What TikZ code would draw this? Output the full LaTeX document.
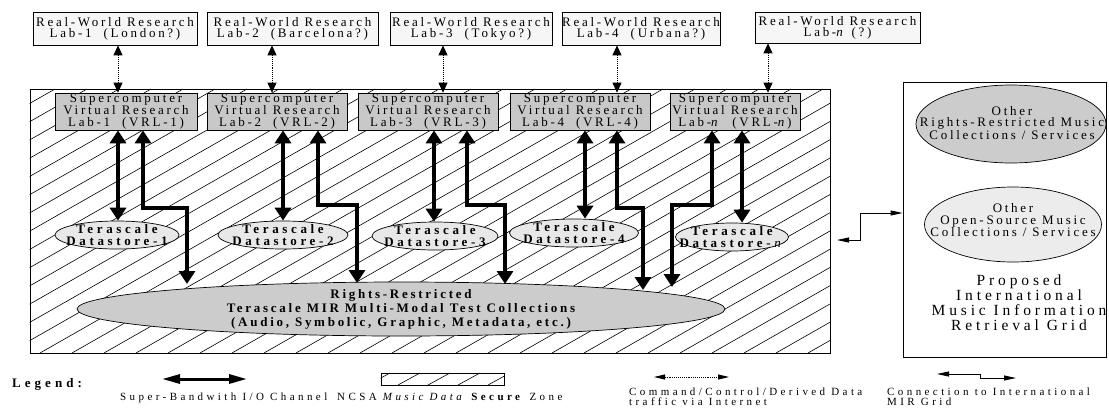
\documentclass[tikz,border=0pt]{standalone}
\usepackage{fontspec}
\setmainfont{Liberation Serif}
\newfontfamily\famA{Liberation Serif}[LetterSpace=21]
\newfontfamily\famB{Liberation Serif}[LetterSpace=25]
\newfontfamily\famC{Liberation Serif}[LetterSpace=31]
\newfontfamily\famD{Liberation Serif}[LetterSpace=28]
\usetikzlibrary{arrows.meta,shapes.geometric,calc}
\definecolor{rwfill}{RGB}{246,246,246}
\definecolor{vrlfill}{RGB}{200,200,200}
\definecolor{dsfill}{RGB}{232,232,232}
\definecolor{bigfill}{RGB}{204,204,204}
\definecolor{osfill}{RGB}{236,236,236}
\begin{document}
\begin{tikzpicture}[x=1pt,y=-1pt,
  rwbox/.style={draw, fill=rwfill, line width=0.7pt, inner sep=0pt, align=center, font=\famA\fontsize{13}{11}\selectfont},
  vrlbox/.style={draw, fill=vrlfill, line width=0.7pt, inner sep=0pt, align=center, minimum height=37pt, font=\famA\fontsize{13}{12.3}\selectfont},
  ellshape/.style={ellipse, draw, line width=0.7pt, inner sep=0pt},
  dsell/.style={ellshape, fill=dsfill, minimum height=28pt},
  dstext/.style={inner sep=0pt, align=center, font=\famD\bfseries\fontsize{13}{12}\selectfont},
  io/.style={line width=3.6pt, {Triangle[length=13pt,width=16pt]}-{Triangle[length=13pt,width=16pt]}},
  ioleg/.style={line width=3pt, {Triangle[length=18pt,width=9pt]}-{Triangle[length=18pt,width=9pt]}},
  net/.style={densely dotted, line width=0.9pt, {Triangle[length=10pt,width=9pt]}-{Triangle[length=10pt,width=9pt]}},
  netleg/.style={densely dotted, line width=0.9pt, {Triangle[length=11pt,width=5pt]}-{Triangle[length=11pt,width=5pt]}},
  gridc/.style={line width=0.9pt, {Triangle[length=12pt,width=5pt]}-{Triangle[length=12pt,width=5pt]}},
  hatchline/.style={line width=0.6pt},
  legtext/.style={inner sep=0pt, font=\famC\fontsize{11}{10}\selectfont}
]
\useasboundingbox (0,0) rectangle (1109,408);

% ---------- secure zone ----------
\node[draw, line width=0.8pt, minimum width=800pt, minimum height=264pt, inner sep=0pt] (zone) at (430,221) {};
\begin{scope}
  \clip (zone.north west) rectangle (zone.south east);
  \foreach \k in {0,...,42} \draw[hatchline] ({-440+32*\k},353) -- ++(463,-264);
\end{scope}

% ---------- real-world labs ----------
\node[rwbox, minimum width=164pt, minimum height=33pt] (rw1) at (115,28.5) {Real-World Research\\Lab-1\ \ (London?)};
\node[rwbox, minimum width=171pt, minimum height=33pt] (rw2) at (292.5,28.5) {Real-World Research\\Lab-2\ \ (Barcelona?)};
\node[rwbox, minimum width=162pt, minimum height=33pt] (rw3) at (471,28.5) {Real-World Research\\Lab-3\ \ (Tokyo?)};
\node[rwbox, minimum width=158pt, minimum height=33pt] (rw4) at (641,28.5) {Real-World Research\\Lab-4\ \ (Urbana?)};
\node[rwbox, minimum width=165pt, minimum height=31pt] (rw5) at (837.5,27.5) {Real-World Research\\Lab-\textit{n} (?)};

% ---------- virtual research labs ----------
\node[vrlbox, minimum width=142pt] (vrl1) at (126,111.5) {Supercomputer\\Virtual Research\\Lab-1\ \ (VRL-1)};
\node[vrlbox, minimum width=140pt] (vrl2) at (277,111.5) {Supercomputer\\Virtual Research\\Lab-2\ \ (VRL-2)};
\node[vrlbox, minimum width=140pt] (vrl3) at (428,111.5) {Supercomputer\\Virtual Research\\Lab-3\ \ (VRL-3)};
\node[vrlbox, minimum width=140pt] (vrl4) at (580,111.5) {Supercomputer\\Virtual Research\\Lab-4\ \ (VRL-4)};
\node[vrlbox, minimum width=130pt] (vrl5) at (735,111.5) {Supercomputer\\Virtual Research\\Lab-\textit{n}\ \ (VRL-\textit{n})};

% ---------- datastores ----------
\node[dsell, minimum width=124pt] (ds1) at (117,235) {};
\node[dsell, minimum width=130pt] (ds2) at (283,235) {};
\node[dsell, minimum width=126pt] (ds3) at (435,236) {};
\node[dsell, minimum width=129pt] (ds4) at (574,233) {};
\node[dsell, minimum width=113pt] (ds5) at (732,237) {};
\node[dstext] (ds1t) at (ds1.center) {Terascale\\Datastore-1};
\node[dstext] (ds2t) at (ds2.center) {Terascale\\Datastore-2};
\node[dstext] (ds3t) at (ds3.center) {Terascale\\Datastore-3};
\node[dstext] (ds4t) at (ds4.center) {Terascale\\Datastore-4};
\node[dstext] (ds5t) at (ds5.center) {Terascale\\Datastore-\textmd{\textit{n}}};

% ---------- test collections ----------
\node[ellshape, fill=bigfill, minimum width=648pt, minimum height=54pt] (big) at (401,309) {};
\node[inner sep=0pt, align=center, font=\famA\bfseries\fontsize{13}{14}\selectfont] (bigt) at (big.center)
  {Rights-Restricted\\Terascale MIR Multi-Modal Test Collections\\(Audio, Symbolic, Graphic, Metadata, etc.)};

% ---------- dotted internet arrows ----------
\coordinate (d1) at (118,0);
\coordinate (d2) at (272,0);
\coordinate (d3) at (443,0);
\coordinate (d4) at (617,0);
\coordinate (d5) at (768,0);
\draw[net] (rw1.south -| d1) -- (vrl1.north -| d1);
\draw[net] (rw2.south -| d2) -- (vrl2.north -| d2);
\draw[net] (rw3.south -| d3) -- (vrl3.north -| d3);
\draw[net] (rw4.south -| d4) -- (vrl4.north -| d4);
\draw[net] (rw5.south -| d5) -- (vrl5.north -| d5);

% ---------- I/O channels to datastores ----------
\coordinate (x1) at (118,0);
\coordinate (x2) at (283,0);
\coordinate (x3) at (434,0);
\coordinate (x4) at (585,0);
\coordinate (x5) at (742,0);
\draw[io] (vrl1.south -| x1) -- (ds1.north -| x1);
\draw[io] (vrl2.south -| x2) -- (ds2.north -| x2);
\draw[io] (vrl3.south -| x3) -- (ds3.north -| x3);
\draw[io] (vrl4.south -| x4) -- (ds4.north -| x4);
\draw[io] (vrl5.south -| x5) -- (ds5.north -| x5);

% ---------- I/O channels to test collections ----------
\coordinate (b1) at (143,208); \coordinate (e1) at (187,284);
\coordinate (b2) at (318,205); \coordinate (e2) at (357,283);
\coordinate (b3) at (467,205); \coordinate (e3) at (505,284);
\coordinate (b4) at (617,208); \coordinate (e4) at (643,290);
\coordinate (b5) at (712,205); \coordinate (e5) at (672,287);
\draw[io] (vrl1.south -| b1) -- (b1) -| (e1);
\draw[io] (vrl2.south -| b2) -- (b2) -| (e2);
\draw[io] (vrl3.south -| b3) -- (b3) -| (e3);
\draw[io] (vrl4.south -| b4) -- (b4) -| (e4);
\draw[io] (vrl5.south -| b5) -- (b5) -| (e5);

% ---------- international grid ----------
\node[draw, line width=0.8pt, minimum width=203pt, minimum height=275pt, inner sep=0pt] (grid) at (1004.5,219.5) {};
\node[ellshape, fill=bigfill, minimum width=190pt, minimum height=78pt] (orr) at (1011,124) {};
\node[inner sep=0pt, align=center, font=\famA\fontsize{13}{11.8}\selectfont] (orrt) at (1012,123)
  {Other\\Rights-Restricted Music\\Collections / Services};
\node[ellshape, fill=osfill, minimum width=177pt, minimum height=75pt] (oos) at (1013,224.5) {};
\node[inner sep=0pt, align=center, font=\famA\fontsize{13}{11.8}\selectfont] (oost) at (1013,220)
  {Other\\Open-Source Music\\Collections / Services};
\node[align=center, inner sep=0pt, font=\famB\fontsize{15.5}{15}\selectfont] (gridlabel) at (1019,303)
  {Proposed\\International\\Music Information\\Retrieval Grid};

\coordinate (gcL) at (837,240);
\coordinate (gcM) at (860,213);
\draw[gridc] (gcL) -| (gcM) -- (gcM -| grid.west);

% ---------- legend ----------
\node[anchor=base west, inner sep=0pt, font=\famC\bfseries\fontsize{13}{13}\selectfont] (legend) at (12,387.5) {Legend:};
\coordinate (la1) at (162,379);
\coordinate (la2) at (247,379);
\draw[ioleg] (la1) -- (la2);
\node[legtext, anchor=base west] (lt1) at (120,400.5) {Super-Bandwith I/O Channel};

\node[draw, line width=0.7pt, minimum width=123pt, minimum height=12pt, inner sep=0pt] (lbox) at (442.5,379) {};
\begin{scope}
  \clip (lbox.north west) rectangle (lbox.south east);
  \foreach \k in {0,...,5} \draw[hatchline] ({368+30*\k},385) -- ++(22,-12);
\end{scope}
\node[legtext, anchor=base west] (lt2) at (337,400.5) {NCSA \textit{Music Data} \textbf{Secure} Zone};

\coordinate (ld1) at (654,377);
\coordinate (ld2) at (729,377);
\draw[netleg] (ld1) -- (ld2);
\node[legtext, anchor=north west, align=left] (lt3) at (629,387.5) {Command/Control/Derived Data\\traffic via Internet};

\coordinate (lg1) at (937,374);
\coordinate (lgm) at (980,378);
\coordinate (lg2) at (1016,378);
\draw[gridc] (lg1) -| (lgm) -- (lg2);
\node[legtext, anchor=north west, align=left] (lt4) at (887,387.5) {Connection to International\\MIR Grid};
\end{tikzpicture}
\end{document}
